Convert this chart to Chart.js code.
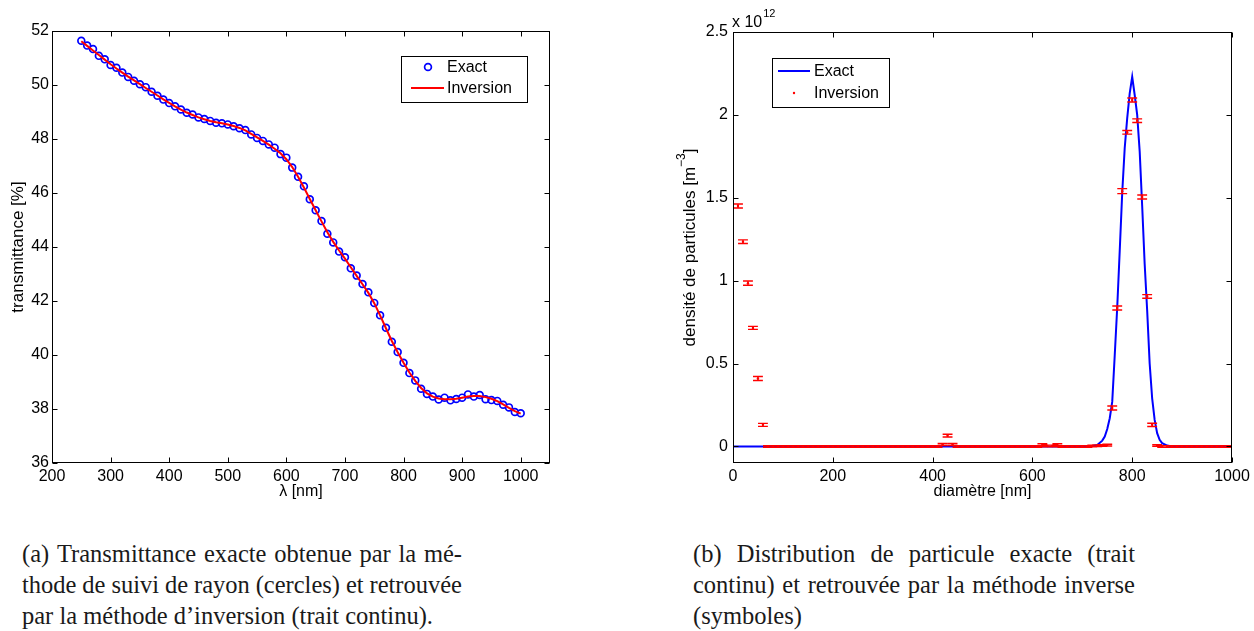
<!DOCTYPE html>
<html><head><meta charset="utf-8">
<script src="https://cdn.jsdelivr.net/npm/chart.js@4/dist/chart.umd.min.js"></script>
<style>
html,body{margin:0;padding:0;background:#fff;width:1254px;height:631px;overflow:hidden;}
canvas{position:absolute;top:0;}
#ca{left:0;}
#cb{left:620px;}
.cap{position:absolute;font-family:"Liberation Serif","DejaVu Serif",serif;font-size:24.5px;line-height:31px;color:#1a1a1a;}
.ln{display:flex;justify-content:space-between;white-space:nowrap;}
.ln.l{justify-content:flex-start;}
</style></head><body>
<canvas id="ca" width="620" height="510"></canvas>
<canvas id="cb" width="634" height="510"></canvas>
<div class="cap" style="left:22px;top:538px;width:440px;">
  <div class="ln"><span>(a)</span><span>Transmittance</span><span>exacte</span><span>obtenue</span><span>par</span><span>la</span><span>mé-</span></div>
  <div class="ln"><span>thode</span><span>de</span><span>suivi</span><span>de</span><span>rayon</span><span>(cercles)</span><span>et</span><span>retrouvée</span></div>
  <div class="ln l">par la méthode d’inversion (trait continu).</div>
</div>
<div class="cap" style="left:693px;top:538px;width:442px;">
  <div class="ln"><span>(b)</span><span>Distribution</span><span>de</span><span>particule</span><span>exacte</span><span>(trait</span></div>
  <div class="ln"><span>continu)</span><span>et</span><span>retrouvée</span><span>par</span><span>la</span><span>méthode</span><span>inverse</span></div>
  <div class="ln l">(symboles)</div>
</div>
<script>
// ---------- (a) transmittance ----------
const lambdaNm = [250,260,270,280,290,300,310,320,330,340,350,360,370,380,390,400,410,420,430,440,
  450,460,470,480,490,500,510,520,530,540,550,560,570,580,590,600,610,620,630,640,
  650,660,670,680,690,700,710,720,730,740,750,760,770,780,790,800,810,820,830,840,
  850,860,870,880,890,900,910,920,930,940,950,960,970,980,990,1000];
const transExact = [51.64,51.46,51.33,51.08,50.95,50.74,50.64,50.46,50.30,50.16,50.03,49.92,49.75,49.60,49.46,49.33,49.21,49.09,48.97,48.91,
  48.80,48.74,48.67,48.60,48.58,48.54,48.47,48.40,48.33,48.17,48.04,47.93,47.80,47.68,47.44,47.31,46.94,46.60,46.25,45.77,
  45.36,44.96,44.49,44.17,43.83,43.62,43.21,42.94,42.63,42.32,41.93,41.47,41.01,40.49,40.11,39.71,39.33,39.06,38.75,38.56,
  38.46,38.35,38.42,38.32,38.37,38.42,38.54,38.46,38.52,38.36,38.33,38.30,38.16,38.06,37.89,37.84];
const transInversion = [51.62,51.45,51.28,51.11,50.94,50.77,50.61,50.46,50.31,50.17,50.03,49.89,49.75,49.61,49.47,49.34,49.21,49.09,48.98,48.89,
  48.80,48.73,48.67,48.62,48.58,48.54,48.48,48.41,48.32,48.19,48.06,47.93,47.79,47.64,47.47,47.25,46.96,46.60,46.20,45.78,
  45.36,44.95,44.55,44.19,43.87,43.57,43.25,42.93,42.62,42.30,41.92,41.47,40.99,40.52,40.10,39.71,39.35,39.04,38.78,38.58,
  38.46,38.39,38.36,38.36,38.38,38.42,38.46,38.48,38.48,38.44,38.38,38.29,38.17,38.04,37.92,37.83];
const leftXTicks = [200,300,400,500,600,700,800,900,1000];
const leftYTicks = [36,38,40,42,44,46,48,50,52];

// ---------- (b) distribution ----------
const exactDiam = [0,700,710,720,730,740,745,750,755,760,765,770,775,780,785,790,795,800,805,810,815,820,825,830,835,840,845,850,855,860,870,880,1000];
const exactDens = [0,0,0.001,0.002,0.008,0.035,0.06,0.105,0.17,0.27,0.55,0.84,1.18,1.53,1.80,1.98,2.13,2.23,2.12,2.0,1.78,1.45,1.10,0.82,0.50,0.29,0.16,0.08,0.04,0.02,0.005,0,0];
const invDiam = [10,20,30,40,50,60,70,80,90,100,
  110,120,130,140,150,160,170,180,190,200,
  210,220,230,240,250,260,270,280,290,300,
  310,320,330,340,350,360,370,380,390,400,
  410,420,430,440,450,460,470,480,490,500,
  510,520,530,540,550,560,570,580,590,600,
  610,620,630,640,650,660,670,680,690,700,
  710,720,730,740,750,760,770,780,790,800,
  810,820,830,840,850,860,870,880,890,900,
  910,920,930,940,950,960,970,980,990,1000];
const invDens = [1.45,1.235,0.985,0.715,0.41,0.13,0,0,0,0,
  0,0,0,0,0,0,0,0,0,0,
  0,0,0,0,0,0,0,0,0,0,
  0,0,0,0,0,0,0,0,0,0,
  0,0.012,0.065,0.012,0,0,0,0,0,0,
  0,0,0,0,0,0,0,0,0,0,
  0,0.01,0.003,0.003,0.01,0,0,0,0,0,
  0,0.003,0.004,0.006,0.008,0.232,0.835,1.54,1.895,2.09,
  1.965,1.505,0.905,0.13,0.005,0,0,0,0,0,
  0,0,0,0,0,0,0,0,0,0];
const invErr = [0.012,0.011,0.013,0.009,0.012,0.009,0.005,0.005,0.005,0.005,
  0.005,0.005,0.005,0.005,0.005,0.005,0.005,0.005,0.005,0.005,
  0.005,0.005,0.005,0.005,0.005,0.005,0.005,0.005,0.005,0.005,
  0.005,0.005,0.005,0.005,0.005,0.005,0.005,0.005,0.005,0.005,
  0.005,0.006,0.008,0.006,0.005,0.005,0.005,0.005,0.005,0.005,
  0.005,0.005,0.005,0.005,0.005,0.005,0.005,0.005,0.005,0.005,
  0.005,0.006,0.005,0.005,0.006,0.005,0.005,0.005,0.005,0.005,
  0.005,0.005,0.005,0.005,0.005,0.012,0.012,0.015,0.011,0.012,
  0.011,0.012,0.011,0.01,0.005,0.005,0.005,0.005,0.005,0.005,
  0.005,0.005,0.005,0.005,0.005,0.005,0.005,0.005,0.005,0.005];
const rightXTicks = [0,200,400,600,800,1000];
const rightYTicks = [0,0.5,1,1.5,2,2.5];

const FONT = '"Liberation Sans", Arial, sans-serif';
const f16 = {family: FONT, size: 16};
const plain = v => String(v);

function pairs(xs, ys){ return xs.map((x,i)=>({x:x, y:ys[i]})); }

const frame = {
  id: 'frame',
  afterDraw(chart) {
    const {ctx, chartArea:a, scales:{x, y}} = chart;
    ctx.save();
    ctx.strokeStyle = '#000'; ctx.lineWidth = 1;
    const L = Math.round(a.left)+0.5, R = Math.round(a.right)-0.5, T = Math.round(a.top)+0.5, B = Math.round(a.bottom)-0.5;
    ctx.strokeRect(L, T, R-L, B-T);
    const tl = 5;
    ctx.beginPath();
    x.ticks.forEach(t => { const p = Math.round(x.getPixelForValue(t.value))+0.5; ctx.moveTo(p,B); ctx.lineTo(p,B-tl); ctx.moveTo(p,T); ctx.lineTo(p,T+tl); });
    y.ticks.forEach(t => { const p = Math.round(y.getPixelForValue(t.value))+0.5; ctx.moveTo(L,p); ctx.lineTo(L+tl,p); ctx.moveTo(R,p); ctx.lineTo(R-tl,p); });
    ctx.stroke();
    ctx.restore();
  }
};

const boxLegend = {
  id: 'boxLegend',
  afterDraw(chart, args, o) {
    if (!o.items) return;
    const ctx = chart.ctx;
    ctx.save();
    ctx.fillStyle = '#fff';
    ctx.fillRect(o.box[0], o.box[1], o.box[2], o.box[3]);
    ctx.strokeStyle = '#000'; ctx.lineWidth = 1;
    ctx.strokeRect(o.box[0]+0.5, o.box[1]+0.5, o.box[2], o.box[3]);
    ctx.font = '16px ' + FONT; ctx.textBaseline = 'middle'; ctx.textAlign = 'left';
    o.items.forEach(it => {
      if (it.kind === 'circle') {
        ctx.strokeStyle = '#0000ff'; ctx.lineWidth = 1.7;
        ctx.beginPath(); ctx.arc(it.cx, it.cy, 3.4, 0, Math.PI*2); ctx.stroke();
      } else if (it.kind === 'line') {
        ctx.strokeStyle = it.color; ctx.lineWidth = 2;
        ctx.beginPath(); ctx.moveTo(it.x1, it.cy); ctx.lineTo(it.x2, it.cy); ctx.stroke();
      } else if (it.kind === 'dot') {
        ctx.fillStyle = '#ff0000';
        ctx.beginPath(); ctx.arc(it.cx, it.cy, 1.2, 0, Math.PI*2); ctx.fill();
      }
      ctx.fillStyle = '#000';
      ctx.fillText(it.text, it.tx, it.cy + 1);
    });
    ctx.restore();
  }
};

const errorBars = {
  id: 'errorBars',
  afterDatasetsDraw(chart, args, o) {
    if (!o.err) return;
    const {ctx, chartArea:a, scales:{x, y}} = chart;
    const xs = o.xs, ys = o.ys, es = o.err;
    const tee = (Math.max(...xs) - Math.min(...xs)) / 100;
    ctx.save();
    ctx.beginPath(); ctx.rect(a.left, a.top, a.right-a.left, a.bottom-a.top); ctx.clip();
    ctx.strokeStyle = '#ff0000'; ctx.lineWidth = 1.4;
    ctx.beginPath();
    xs.forEach((d,i) => {
      const px = x.getPixelForValue(d);
      const hw = x.getPixelForValue(d + tee) - px;
      const lo = y.getPixelForValue(ys[i] - es[i]);
      const hi = y.getPixelForValue(ys[i] + es[i]);
      ctx.moveTo(px, lo); ctx.lineTo(px, hi);
      ctx.moveTo(px-hw, lo); ctx.lineTo(px+hw, lo);
      ctx.moveTo(px-hw, hi); ctx.lineTo(px+hw, hi);
    });
    ctx.stroke();
    ctx.restore();
  }
};

const extraText = {
  id: 'extraText',
  afterDraw(chart, args, o) {
    if (!o.on) return;
    const {ctx, chartArea:a} = chart;
    ctx.save();
    ctx.fillStyle = '#000';
    ctx.textBaseline = 'alphabetic'; ctx.textAlign = 'left';
    ctx.font = '16px ' + FONT;
    const x0 = a.left - 1;
    ctx.fillText('x 10', x0, 27);
    const w = ctx.measureText('x 10').width;
    ctx.font = '11px ' + FONT;
    ctx.fillText('12', x0 + w + 1, 17);
    ctx.translate(70, (a.top + a.bottom) / 2);
    ctx.rotate(-Math.PI/2);
    ctx.font = '17px ' + FONT;
    const t1 = 'densité de particules [m', t3 = ']';
    const w1 = ctx.measureText(t1).width, w3 = ctx.measureText(t3).width;
    ctx.font = '12px ' + FONT;
    const w2 = ctx.measureText('−3').width;
    const tot = w1 + w2 + w3;
    let sx = -tot/2;
    ctx.font = '17px ' + FONT; ctx.textBaseline = 'middle';
    ctx.fillText(t1, sx, 0);
    ctx.font = '12px ' + FONT;
    ctx.fillText('−3', sx + w1, -8);
    ctx.font = '17px ' + FONT;
    ctx.fillText(t3, sx + w1 + w2, 0);
    ctx.restore();
  }
};

Chart.register(frame, boxLegend, errorBars, extraText);
Chart.defaults.font.family = FONT;
Chart.defaults.color = '#000';

new Chart(document.getElementById('ca'), {
  type: 'line',
  data: {
    datasets: [
      { label: 'Exact', data: pairs(lambdaNm, transExact), showLine: false, order: 1,
        pointStyle: 'circle', pointRadius: 3.4, pointBorderWidth: 1.7, pointBorderColor: '#0000ff', pointBackgroundColor: 'rgba(0,0,0,0)' },
      { label: 'Inversion', data: pairs(lambdaNm, transInversion), order: 0,
        borderColor: '#ff0000', borderWidth: 2, pointRadius: 0, fill: false, tension: 0 }
    ]
  },
  options: {
    responsive: false, animation: false, events: [],
    layout: { padding: { left: 0, top: 31, right: 70, bottom: 0 } },
    plugins: {
      legend: { display: false }, tooltip: { enabled: false },
      boxLegend: { box: [401, 56, 126, 46], items: [
        { kind: 'circle', cx: 428, cy: 67, text: 'Exact', tx: 447 },
        { kind: 'line', color: '#ff0000', x1: 411, x2: 444, cy: 88, text: 'Inversion', tx: 447 } ] }
    },
    scales: {
      x: { type: 'linear', min: 200, max: 1050,
        grid: { display: false, drawTicks: false }, border: { display: false },
        ticks: { font: f16, color: '#000', padding: 4, maxRotation: 0, autoSkip: false, callback: plain },
        afterBuildTicks: s => { s.ticks = leftXTicks.map(v => ({ value: v })); },
        afterFit: s => { s.height = 47; },
        title: { display: true, text: 'λ [nm]', font: { family: FONT, size: 16 }, color: '#000', padding: { top: 0, bottom: 9 } } },
      y: { type: 'linear', min: 36, max: 52,
        grid: { display: false, drawTicks: false }, border: { display: false },
        ticks: { font: f16, color: '#000', padding: 3, autoSkip: false, callback: plain },
        afterBuildTicks: s => { s.ticks = leftYTicks.map(v => ({ value: v })); },
        afterFit: s => { s.width = 52; },
        title: { display: true, text: 'transmittance [%]', font: { family: FONT, size: 17 }, color: '#000', padding: { top: 8, bottom: 0 } } }
    }
  }
});

new Chart(document.getElementById('cb'), {
  type: 'line',
  data: {
    datasets: [
      { label: 'Exact', data: pairs(exactDiam, exactDens), order: 1,
        borderColor: '#0000ff', borderWidth: 2, pointRadius: 0, fill: false, tension: 0 },
      { label: 'Inversion', data: pairs(invDiam, invDens), showLine: false, order: 0,
        pointRadius: 1.2, pointBorderWidth: 0, pointBackgroundColor: '#ff0000' }
    ]
  },
  options: {
    responsive: false, animation: false, events: [],
    layout: { padding: { left: 0, top: 32, right: 22, bottom: 0 } },
    plugins: {
      legend: { display: false }, tooltip: { enabled: false },
      errorBars: { xs: invDiam, ys: invDens, err: invErr },
      extraText: { on: true },
      boxLegend: { box: [152, 58, 117, 49], items: [
        { kind: 'line', color: '#0000ff', x1: 158, x2: 190, cy: 71, text: 'Exact', tx: 194 },
        { kind: 'dot', cx: 174, cy: 93, text: 'Inversion', tx: 194 } ] }
    },
    scales: {
      x: { type: 'linear', min: 0, max: 1000,
        grid: { display: false, drawTicks: false }, border: { display: false },
        ticks: { font: f16, color: '#000', padding: 4, maxRotation: 0, autoSkip: false, callback: plain },
        afterBuildTicks: s => { s.ticks = rightXTicks.map(v => ({ value: v })); },
        afterFit: s => { s.height = 47; },
        title: { display: true, text: 'diamètre [nm]', font: { family: FONT, size: 16 }, color: '#000', padding: { top: 0, bottom: 9 } } },
      y: { type: 'linear', min: -0.1, max: 2.5,
        grid: { display: false, drawTicks: false }, border: { display: false },
        ticks: { font: f16, color: '#000', padding: 5, autoSkip: false, callback: plain },
        afterBuildTicks: s => { s.ticks = rightYTicks.map(v => ({ value: v })); },
        afterFit: s => { s.width = 113; },
        title: { display: false } }
    }
  }
});
</script>
</body></html>
